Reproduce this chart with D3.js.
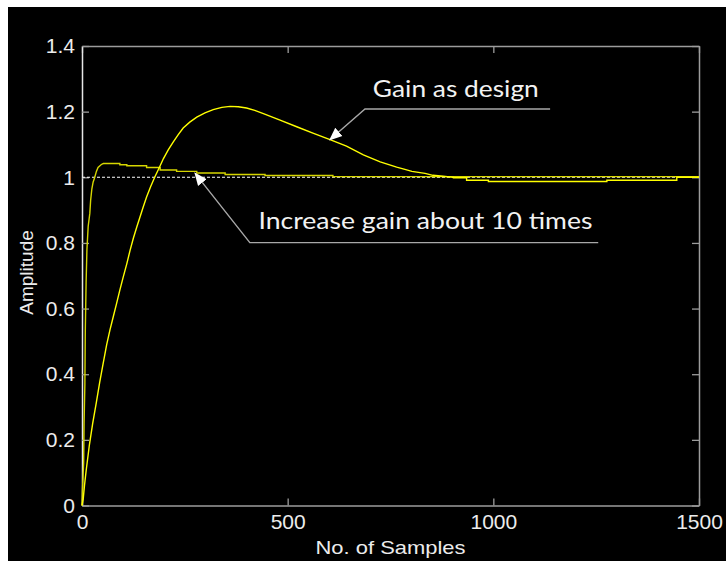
<!DOCTYPE html>
<html>
<head>
  <meta charset="utf-8">
  <title>Step response</title>
  <script src="https://cdn.jsdelivr.net/npm/d3@7"></script>
  <style type="text/css">
    body {
      margin: 0;
      background: #fff;
    }
    .tick text {
      font-family: "Liberation Sans", Arial, sans-serif;
      font-size: 21px;
      fill: #ececec;
    }
    .axis-label {
      font-family: "Liberation Sans", Arial, sans-serif;
      font-size: 19px;
      fill: #ececec;
    }
    .note {
      font-family: Lato, "Open Sans", sans-serif;
      font-size: 23px;
      fill: #f2f2f2;
    }
  </style>
</head>
<body>
  <svg id="chart" width="726" height="561"></svg>
  <script type="text/javascript">

  // x ticks / y ticks
  const xTicks = [0, 500, 1000, 1500];
  const xTickLabels = ['0', '500', '1000', '1500'];
  const yTicks = [0, 0.2, 0.4, 0.6, 0.8, 1, 1.2, 1.4];
  const yTickLabels = ['0', '0.2', '0.4', '0.6', '0.8', '1', '1.2', '1.4'];

  // reference (set point)
  const setPoint = [[0, 1], [1500, 1]];

  // gain about 10 times higher - [sample, amplitude]
  const fastGain = [
    [0, 0], [1, 0.046], [4, 0.13], [5, 0.25], [7, 0.37], [8, 0.53], [10, 0.68],
    [12, 0.78], [15, 0.85], [19, 0.89], [21, 0.93], [24, 0.965], [27, 0.985],
    [31, 1.0], [35, 1.018], [39, 1.03], [47, 1.039], [52, 1.042],
    [92, 1.042], [92, 1.038], [109, 1.038], [109, 1.035], [157, 1.035], [157, 1.03],
    [190, 1.03], [190, 1.022], [230, 1.022], [230, 1.018], [279, 1.018], [279, 1.013],
    [348, 1.013], [348, 1.0085], [445, 1.0085], [445, 1.0055], [610, 1.0055],
    [610, 1.002], [1500, 1.002]
  ];

  // gain as designed
  const designGain = [
    [0, 0], [3, 0.02], [6, 0.06], [10, 0.105], [18, 0.185], [26, 0.25], [35, 0.315],
    [43, 0.375], [51, 0.43], [60, 0.49], [68, 0.535], [76, 0.575], [84, 0.615],
    [92, 0.656], [100, 0.695], [109, 0.737], [117, 0.778], [125, 0.815], [133, 0.848],
    [141, 0.879], [149, 0.91], [157, 0.94], [167, 0.972], [177, 1.001], [188, 1.03],
    [198, 1.057], [210, 1.084], [222, 1.108], [234, 1.13], [246, 1.15], [262, 1.168],
    [279, 1.183], [299, 1.196], [319, 1.206], [340, 1.213], [360, 1.216], [380, 1.215],
    [400, 1.211], [420, 1.204], [441, 1.194], [480, 1.175], [522, 1.154], [563, 1.134],
    [603, 1.115], [643, 1.095], [684, 1.068], [725, 1.047], [765, 1.031], [785, 1.024],
    [802, 1.018], [834, 1.012], [853, 1.006], [878, 1.003], [903, 1.0], [903, 0.9985],
    [935, 0.9985], [935, 0.991], [988, 0.991], [988, 0.987], [1276, 0.987], [1276, 0.991],
    [1446, 0.991], [1446, 1.0], [1500, 1.0]
  ];

  // annotations in data units: tip of arrow, knee of leader, end of leader, text start
  const notes = [
    {text: 'Gain as design', tip: [603, 1.115], knee: [688, 1.208], end: 1138, at: [707, 1.245], len: 166},
    {text: 'Increase gain about 10 times', tip: [275, 1.012], knee: [408, 0.801], end: 1255, at: [429, 0.842], len: 334}
  ];

  const svg = d3.select('#chart');
  const W = 726, H = 561;
  const margin = {left: 82, top: 46, right: 27, bottom: 56};

  svg.append('rect').attr('x', 8).attr('y', 7)
    .attr('width', W - 8).attr('height', H - 7).attr('fill', '#000');

  const x = d3.scaleLinear().domain([0, 1500]).range([margin.left, W - margin.right]);
  const y = d3.scaleLinear().domain([0, 1.4]).range([H - margin.bottom + 0.5, margin.top]);

  // axes, ticks pointing inwards like matlab
  const gx = svg.append('g').attr('transform', `translate(0,${y(0)})`)
    .call(d3.axisBottom(x).tickValues(xTicks).tickSize(-7).tickPadding(9).tickSizeOuter(0)
      .tickFormat((d, i) => xTickLabels[i]));
  const gxt = svg.append('g').attr('transform', `translate(0,${y(1.4)})`)
    .call(d3.axisTop(x).tickValues(xTicks).tickSize(-7).tickFormat('').tickSizeOuter(0));
  const gy = svg.append('g').attr('transform', `translate(${x(0)},0)`)
    .call(d3.axisLeft(y).tickValues(yTicks).tickSize(-7).tickPadding(7).tickSizeOuter(0)
      .tickFormat((d, i) => yTickLabels[i]));
  const gyr = svg.append('g').attr('transform', `translate(${x(1500)},0)`)
    .call(d3.axisRight(y).tickValues(yTicks).tickSize(-7).tickFormat('').tickSizeOuter(0));

  [gx, gxt, gy, gyr].forEach(g => {
    g.select('.domain').attr('stroke', '#9c9c9c').attr('stroke-width', 1.5);
    g.selectAll('.tick line').attr('stroke', '#9c9c9c').attr('stroke-width', 1.3);
    g.selectAll('.tick text').attr('fill', '#ececec');
  });
  gy.select('.domain').attr('stroke', '#e6e6e6');

  svg.append('text').attr('class', 'axis-label')
    .attr('x', x(750)).attr('y', 554)
    .attr('text-anchor', 'middle')
    .attr('textLength', 150).attr('lengthAdjust', 'spacingAndGlyphs')
    .text('No. of Samples');
  svg.append('text').attr('class', 'axis-label')
    .attr('transform', `translate(33,${y(0.71)}) rotate(-90)`)
    .attr('text-anchor', 'middle').text('Amplitude');

  const line = d3.line().x(d => x(d[0])).y(d => y(d[1]));

  svg.append('path').datum(setPoint).attr('d', line)
    .attr('fill', 'none').attr('stroke', '#fff').attr('stroke-width', 1.1)
    .attr('stroke-dasharray', '3,2');

  svg.append('path').datum(fastGain).attr('d', line)
    .attr('fill', 'none').attr('stroke', '#d6d600').attr('stroke-width', 1.4);

  svg.append('path').datum(designGain).attr('d', line)
    .attr('fill', 'none').attr('stroke', '#ffff00').attr('stroke-width', 1.4);

  // arrow annotations
  svg.append('defs').append('marker')
    .attr('id', 'head').attr('viewBox', '0 0 10 10')
    .attr('refX', 9).attr('refY', 5)
    .attr('markerWidth', 13).attr('markerHeight', 13)
    .attr('markerUnits', 'userSpaceOnUse').attr('orient', 'auto')
    .append('path').attr('d', 'M0,0.8 L10,5 L0,9.2 Z').attr('fill', '#fff');

  const note = svg.selectAll('g.note-g').data(notes).enter().append('g').attr('class', 'note-g');
  note.append('path')
    .attr('d', d => `M${x(d.end)},${y(d.knee[1])} L${x(d.knee[0])},${y(d.knee[1])} L${x(d.tip[0])},${y(d.tip[1])}`)
    .attr('fill', 'none').attr('stroke', '#a8a8a8').attr('stroke-width', 1.4)
    .attr('marker-end', 'url(#head)');
  note.append('text').attr('class', 'note')
    .attr('x', d => x(d.at[0])).attr('y', d => y(d.at[1]))
    .attr('textLength', d => d.len).attr('lengthAdjust', 'spacingAndGlyphs')
    .text(d => d.text);
  </script>
</body>
</html>
